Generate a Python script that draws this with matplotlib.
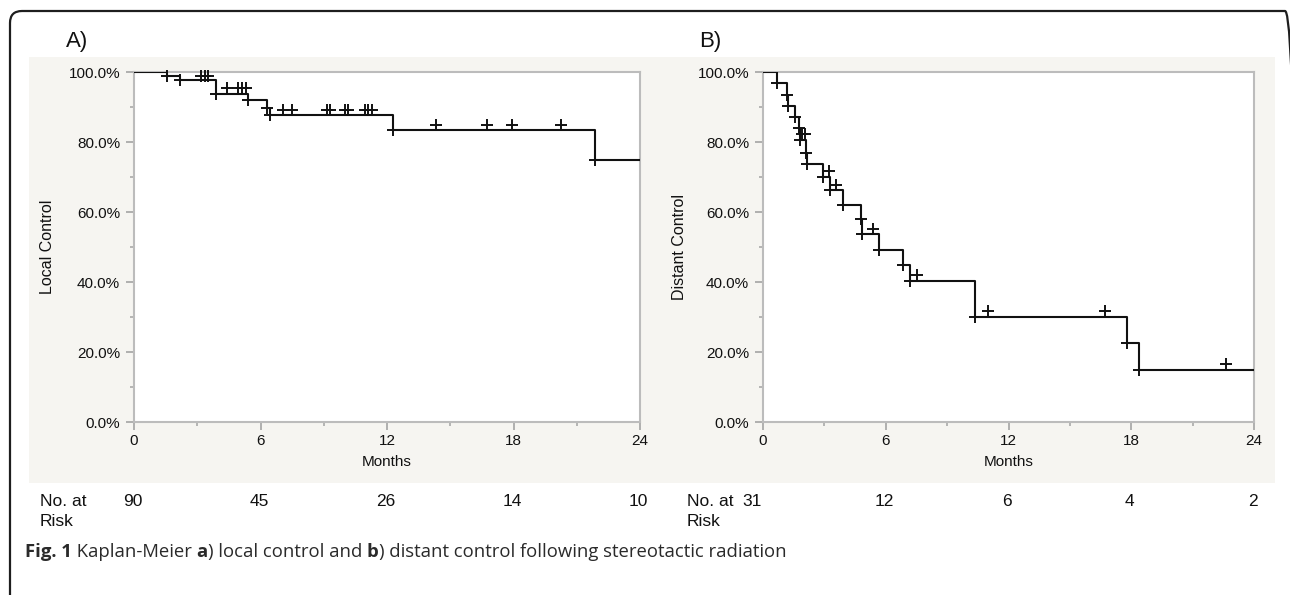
import matplotlib
matplotlib.use('Agg')
import matplotlib.pyplot as plt
import matplotlib.transforms as mtransforms
from matplotlib.patches import Rectangle, FancyBboxPatch
from matplotlib.ticker import MultipleLocator, FuncFormatter

# ---------------- data ----------------
# Panel A: local control (events: time in months, survival %)
a_event_t = [1.55, 2.2, 3.9, 5.42, 6.29, 6.45, 12.3, 21.86]
a_event_s = [98.9, 97.7, 93.8, 91.9, 89.8, 87.6, 83.4, 75.0]
# censored marks (drawn as in the figure, just above the curve)
a_cens_t = [3.2, 3.36, 3.51, 4.4, 4.93, 5.12, 5.31, 7.08, 7.5, 9.14, 9.3,
            10.0, 10.15, 10.96, 11.12, 11.28, 14.32, 16.75, 17.95, 20.24]
a_cens_s = [98.9, 98.9, 98.9, 95.4, 95.4, 95.4, 95.4, 89.2, 89.2, 89.2, 89.2,
            89.2, 89.2, 89.2, 89.2, 89.2, 84.9, 84.9, 84.9, 84.9]

# Panel B: distant control
b_event_t = [0.70, 1.17, 1.21, 1.55, 1.77, 1.82, 2.09, 2.13, 2.91, 3.27, 3.92,
             4.77, 4.82, 5.68, 6.86, 7.20, 10.37, 17.8, 18.37]
b_event_s = [96.8, 93.5, 90.3, 87.1, 83.9, 80.6, 77.0, 73.6, 70.0, 66.2, 61.9,
             57.9, 53.7, 49.2, 44.8, 40.2, 30.1, 22.5, 14.9]
b_cens_t = [1.93, 2.04, 3.23, 3.58, 5.40, 7.54, 11.0, 16.73, 22.64]
b_cens_s = [82.3, 82.3, 71.7, 67.6, 55.2, 41.9, 31.8, 31.8, 16.6]

risk_times = [0, 6, 12, 18, 24]
a_risk = [90, 45, 26, 14, 10]
b_risk = [31, 12, 6, 4, 2]

x_ticks = [0, 6, 12, 18, 24]
y_ticks = [0, 20, 40, 60, 80, 100]

caption_pieces = [('Fig. 1', 'bold'), (' Kaplan-Meier ', 'normal'), ('a', 'bold'),
                  (') local control and ', 'normal'), ('b', 'bold'),
                  (') distant control following stereotactic radiation', 'normal')]

# ---------------- figure ----------------
W, H = 1290, 595
plt.rcParams['font.family'] = ['Liberation Sans', 'DejaVu Sans']
fig = plt.figure(figsize=(W / 100, H / 100), dpi=100)


def fx(x):
    return x / W


def fy(y):
    return 1 - y / H


BG = '#f6f5f1'
SPINE = '#bcbcbc'
INK = '#111111'

# outer rounded frame
frame = FancyBboxPatch((10 / 100, -0.2), (1297 - 10) / 100, (595 - 11) / 100 + 0.2,
                       boxstyle='round,pad=0,rounding_size=0.12',
                       transform=fig.dpi_scale_trans, fill=False,
                       edgecolor='#1e1e1e', linewidth=1.6, zorder=-4)
fig.patches.append(frame)

# gray panel backgrounds
for x0, x1 in [(29, 662), (662, 1275)]:
    fig.patches.append(Rectangle((fx(x0), fy(483)), fx(x1) - fx(x0), (483 - 57) / H,
                                 transform=fig.transFigure, facecolor=BG,
                                 edgecolor='none', zorder=-5))

panels = [
    dict(left=134, right=640, ev_t=a_event_t, ev_s=a_event_s, c_t=a_cens_t, c_s=a_cens_s,
         ylabel='Local Control', ylab_x=48, title='A)', title_x=66,
         risk=a_risk, risk_label_x=40, first_off=-1),
    dict(left=763, right=1254, ev_t=b_event_t, ev_s=b_event_s, c_t=b_cens_t, c_s=b_cens_s,
         ylabel='Distant Control', ylab_x=680, title='B)', title_x=699,
         risk=b_risk, risk_label_x=687, first_off=-8),
]

top, bottom = 72, 422
for p in panels:
    ax = fig.add_axes([fx(p['left']), fy(bottom), fx(p['right']) - fx(p['left']),
                       (bottom - top) / H])
    ax.set_facecolor('white')
    ts = [0] + p['ev_t'] + [24]
    ss = [100] + p['ev_s'] + [p['ev_s'][-1]]
    ax.step(ts, ss, where='post', color=INK, lw=1.5, zorder=3)
    ax.plot(p['ev_t'], p['ev_s'], '+', color=INK, ms=8, mew=1.4, zorder=4,
            clip_on=False)
    ax.plot(p['c_t'], p['c_s'], '+', color=INK, ms=8, mew=1.4, zorder=4,
            clip_on=False)
    ax.set_xlim(0, 24)
    ax.set_ylim(0, 100)
    ax.set_xticks(x_ticks)
    ax.set_yticks(y_ticks)
    ax.xaxis.set_minor_locator(MultipleLocator(3))
    ax.yaxis.set_minor_locator(MultipleLocator(10))
    ax.yaxis.set_major_formatter(FuncFormatter(lambda v, pos: f'{v:.1f}%'))
    for s in ax.spines.values():
        s.set_color(SPINE)
        s.set_linewidth(1.5)
    ax.tick_params(which='major', direction='out', length=6, width=1.3, color='#aaaaaa',
                   labelsize=11, labelcolor=INK)
    ax.tick_params(axis='y', which='major', pad=4)
    ax.tick_params(axis='x', which='major', pad=2.5)
    ax.tick_params(which='minor', direction='out', length=3, width=1.2, color='#aaaaaa')

    ax.set_xlabel('Months', fontsize=11, color=INK)
    ax.xaxis.set_label_coords(0.5, -(462 - bottom) / (bottom - top))
    ax.xaxis.label.set_va('center')
    ax.set_ylabel(p['ylabel'], fontsize=11.5, color=INK)
    ax.yaxis.set_label_coords(-(p['left'] - p['ylab_x']) / (p['right'] - p['left']), 0.5)
    ax.yaxis.label.set_va('center')

    fig.text(fx(p['title_x']), fy(42), p['title'], fontsize=16, ha='left', va='center',
             color=INK)

    # number at risk
    fig.text(fx(p['risk_label_x']), fy(501.7), 'No. at', fontsize=12.5, ha='left',
             va='center', color=INK)
    fig.text(fx(p['risk_label_x']), fy(521.7), 'Risk', fontsize=12.5, ha='left',
             va='center', color=INK)
    blend = mtransforms.blended_transform_factory(ax.transData, fig.transFigure)
    for i, (t, n) in enumerate(zip(risk_times, p['risk'])):
        off = p['first_off'] if i == 0 else -1
        ax.annotate(str(n), xy=(t, fy(501.7)), xycoords=blend,
                    xytext=(off, 0), textcoords='offset points',
                    ha='center', va='center', fontsize=12.5, color=INK,
                    annotation_clip=False)

# caption, built from bold / regular pieces placed one after another
prev = None
for txt, wt in caption_pieces:
    kw = dict(fontsize=13.3, fontweight=wt, color='#2a2a2a',
              family=['Open Sans', 'DejaVu Sans'], va='bottom', ha='left')
    if prev is None:
        prev = fig.text(fx(25), fy(561), txt, **kw)
    else:
        ann = plt.Annotation(txt, xy=(1, 0), xycoords=prev, **kw)
        fig.add_artist(ann)
        prev = ann

fig.savefig('out.png', dpi=100)
